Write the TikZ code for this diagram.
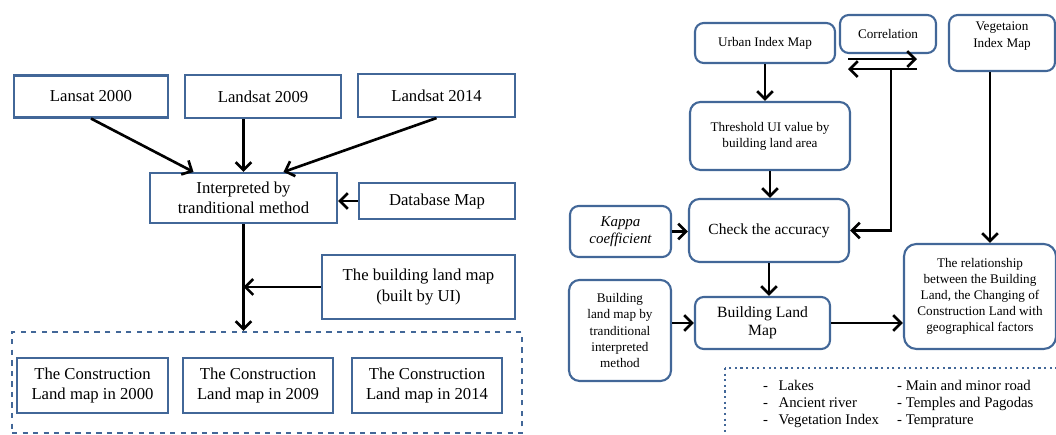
\documentclass[tikz,border=0pt]{standalone}
\usepackage{fontspec}
\setmainfont{Liberation Serif}
\usetikzlibrary{arrows.meta}

\definecolor{boxblue}{RGB}{66,103,152}

\begin{document}
\begin{tikzpicture}[x=0.02cm,y=-0.02cm,
	sqbox/.style={draw=boxblue,line width=1.2pt,align=center,inner sep=0pt,font=\fontsize{9.5}{11.4}\selectfont},
	rbox/.style={draw=boxblue,line width=1.2pt,rounded corners=5pt,align=center,inner sep=0pt},
	small/.style={font=\fontsize{7.5}{9.2}\selectfont},
	medium/.style={font=\fontsize{8.8}{10.4}\selectfont},
	arr/.style={line width=1.5pt,-{Straight Barb[length=4.5pt,width=9pt]}}]
			\useasboundingbox (0,0) rectangle (1056,435);
			\node[sqbox,minimum width=3.08cm,minimum height=0.84cm] (l2000) at (91,96.5) {Lansat 2000};
			\node[sqbox,minimum width=3.12cm,minimum height=0.86cm] (l2009) at (263,96.5) {Landsat 2009};
			\node[sqbox,minimum width=3.14cm,minimum height=0.86cm] (l2014) at (436.5,95.5) {Landsat 2014};
			\node[sqbox,minimum width=3.74cm,minimum height=1cm] (interp) at (243.5,198) {Interpreted by\\tranditional method};
			\node[sqbox,minimum width=3.12cm,minimum height=0.72cm] (dbmap) at (437,201) {Database Map};
			\node[sqbox,minimum width=3.86cm,minimum height=1.28cm] (uimap) at (418.5,287) {The building land map\\(built by UI)};
			\node[draw=boxblue,line width=1.2pt,dashed,minimum width=10.2cm,minimum height=2.02cm] (outbox) at (267,382.5) {};
			\node[sqbox,minimum width=3.02cm,minimum height=1.1cm] (c2000) at (92.5,385.5) {The Construction\\Land map in 2000};
			\node[sqbox,minimum width=3cm,minimum height=1.1cm] (c2009) at (258,385.5) {The Construction\\Land map in 2009};
			\node[sqbox,minimum width=3cm,minimum height=1.1cm] (c2014) at (427,385.5) {The Construction\\Land map in 2014};
			\draw[arr] (l2000.south) -- ([xshift=-1cm]interp.north);
			\draw[arr] (l2009.south -| interp.north) -- (interp.north);
			\draw[arr] (l2014.south) -- ([xshift=0.8cm]interp.north);
			\draw[arr] (dbmap.west) -- (dbmap.west -| interp.east);
			\draw[arr] (interp.south) -- (interp.south |- outbox.north);
			\draw[arr] (uimap.west) -- (uimap.west -| interp.south);
			\node[rbox,small,minimum width=2.8cm,minimum height=0.8cm] (urban) at (765,43) {Urban Index Map};
			\node[rbox,small,minimum width=1.92cm,minimum height=0.76cm] (corr) at (888,34) {Correlation};
			\node[rbox,small,minimum width=2.12cm,minimum height=1.12cm] (veg) at (1002,43) {};
			\node[small,align=center] (vegtxt) at (1002,36) {Vegetaion\\Index Map};
			\node[rbox,small,rounded corners=6pt,minimum width=3.2cm,minimum height=1.36cm] (thresh) at (770,136) {Threshold UI value by\\building land area};
			\node[rbox,medium,rounded corners=6pt,minimum width=3.2cm,minimum height=1.26cm] (check) at (769,230.5) {Check the accuracy};
			\node[rbox,font=\fontsize{8.5}{9.9}\selectfont\itshape,minimum width=2.02cm,minimum height=1.02cm] (kappa) at (620.5,231.5) {Kappa\\coefficient};
			\node[rbox,font=\fontsize{8.9}{10.4}\selectfont,minimum width=2.7cm,minimum height=1.04cm] (blm) at (762.5,323) {Building Land\\Map};
			\node[rbox,small,rounded corners=6pt,minimum width=2.04cm,minimum height=2.02cm] (bltrad) at (620,330.5) {Building\\land map by\\tranditional\\interpreted\\method};
			\node[rbox,small,rounded corners=7pt,minimum width=3.04cm,minimum height=2.1cm] (rel) at (980,296.5) {The relationship\\between the Building\\Land, the Changing of\\Construction Land with\\geographical factors};
			\draw[boxblue,line width=1.2pt,dotted] (725,368) rectangle (1090,470);
			\node[anchor=west,align=left,font=\fontsize{8.4}{9.8}\selectfont] (list1) at (757,404) {-\hspace{6pt}Lakes\\-\hspace{6pt}Ancient river\\-\hspace{6pt}Vegetation Index};
			\node[anchor=west,align=left,font=\fontsize{8.4}{9.8}\selectfont] (list2) at (891,404) {- Main and minor road\\- Temples and Pagodas\\- Temprature};
			\draw[arr] (urban.south) -- (thresh.north -| urban.south);
			\draw[arr] (thresh.south) -- (check.north -| thresh.south);
			\draw[arr] (check.south) -- (check.south |- blm.north);
			\draw[arr] (kappa.east) -- (kappa.east -| check.west);
			\draw[arr] (bltrad.east |- blm.west) -- (blm.west);
			\draw[arr] (blm.east) -- (blm.east -| rel.west);
			\draw[arr] ([shift={(-40,5)}]corr.south) -- ([shift={(29,5)}]corr.south);
			\draw[arr] ([shift={(29,15)}]corr.south) -- ([shift={(-40,15)}]corr.south);
			\draw[arr] ([shift={(3,15)}]corr.south) |- (check.east);
			\draw[arr] ([xshift=-0.24cm]veg.south) -- ([xshift=-0.24cm]veg.south |- rel.north);
		\end{tikzpicture}
\end{document}
